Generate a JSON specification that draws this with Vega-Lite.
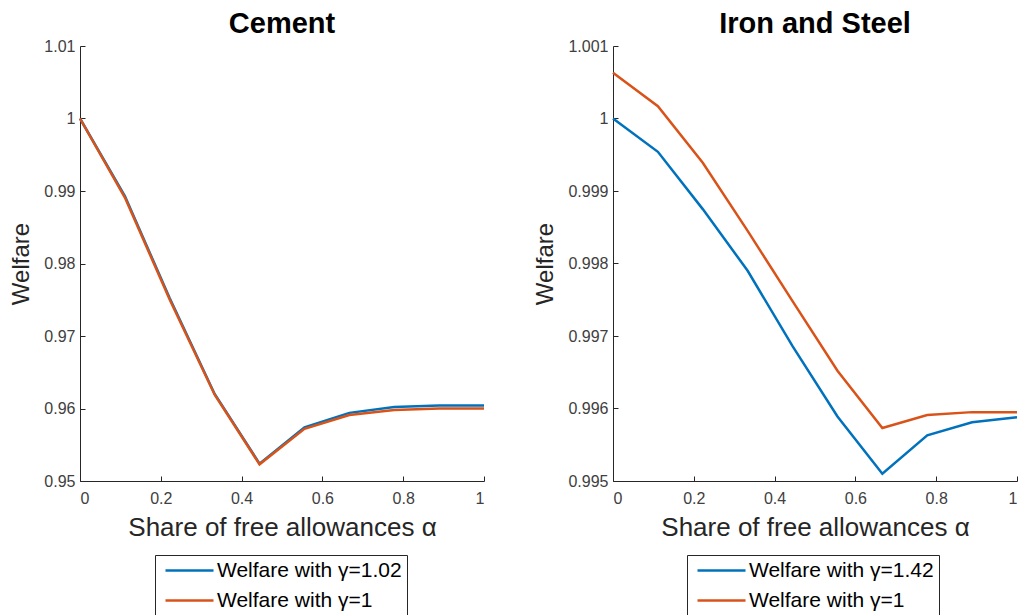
{
  "$schema": "https://vega.github.io/schema/vega-lite/v6.json",
  "background": "white",
  "padding": {"left": 9, "top": 10, "right": 0, "bottom": 0},
  "bounds": "flush",
  "spacing": 129,
  "resolve": {"scale": {"color": "independent"}},
  "config": {
    "font": "Liberation Sans",
    "view": {"stroke": null},
    "axis": {
      "grid": false,
      "domainColor": "#262626",
      "tickColor": "#262626",
      "labelColor": "#404040",
      "titleColor": "#262626",
      "labelFont": "Liberation Sans",
      "labelFontSize": 16,
      "titleFont": "Liberation Sans",
      "titleFontSize": 24,
      "titleFontWeight": "normal",
      "tickSize": -5,
      "labelPadding": 10,
      "domainWidth": 1,
      "tickWidth": 1
    },
    "axisX": {"titleFontSize": 26, "titlePadding": 8, "labelPadding": 14},
    "axisY": {"titlePadding": 10},
    "title": {"font": "Liberation Sans", "fontSize": 29, "fontWeight": "bold", "color": "#000000", "offset": -1},
    "legend": {
      "symbolType": "M-4,0H4",
      "symbolSize": 144,
      "symbolStrokeWidth": 2.5,
      "symbolOffset": 19,
      "labelFont": "Liberation Sans",
      "labelFontSize": 21,
      "labelColor": "#000000",
      "labelLimit": 400,
      "strokeColor": "#262626",
      "fillColor": "white",
      "padding": 5,
      "labelOffset": 17,
      "rowPadding": 8
    }
  },
  "datasets": {
    "cement": [
      {"alpha": 0, "welfare": 1.0, "series": "Welfare with γ=1.02"},
      {"alpha": 0.1111, "welfare": 0.9893, "series": "Welfare with γ=1.02"},
      {"alpha": 0.2222, "welfare": 0.9752, "series": "Welfare with γ=1.02"},
      {"alpha": 0.3333, "welfare": 0.962, "series": "Welfare with γ=1.02"},
      {"alpha": 0.4444, "welfare": 0.9524, "series": "Welfare with γ=1.02"},
      {"alpha": 0.5556, "welfare": 0.9574, "series": "Welfare with γ=1.02"},
      {"alpha": 0.6667, "welfare": 0.9594, "series": "Welfare with γ=1.02"},
      {"alpha": 0.7778, "welfare": 0.9602, "series": "Welfare with γ=1.02"},
      {"alpha": 0.8889, "welfare": 0.9604, "series": "Welfare with γ=1.02"},
      {"alpha": 1, "welfare": 0.9604, "series": "Welfare with γ=1.02"},
      {"alpha": 0, "welfare": 1.0, "series": "Welfare with γ=1"},
      {"alpha": 0.1111, "welfare": 0.9891, "series": "Welfare with γ=1"},
      {"alpha": 0.2222, "welfare": 0.975, "series": "Welfare with γ=1"},
      {"alpha": 0.3333, "welfare": 0.9619, "series": "Welfare with γ=1"},
      {"alpha": 0.4444, "welfare": 0.9523, "series": "Welfare with γ=1"},
      {"alpha": 0.5556, "welfare": 0.9572, "series": "Welfare with γ=1"},
      {"alpha": 0.6667, "welfare": 0.9591, "series": "Welfare with γ=1"},
      {"alpha": 0.7778, "welfare": 0.9598, "series": "Welfare with γ=1"},
      {"alpha": 0.8889, "welfare": 0.96, "series": "Welfare with γ=1"},
      {"alpha": 1, "welfare": 0.96, "series": "Welfare with γ=1"}
    ],
    "steel": [
      {"alpha": 0, "welfare": 1.0, "series": "Welfare with γ=1.42"},
      {"alpha": 0.1111, "welfare": 0.99954, "series": "Welfare with γ=1.42"},
      {"alpha": 0.2222, "welfare": 0.99875, "series": "Welfare with γ=1.42"},
      {"alpha": 0.3333, "welfare": 0.9979, "series": "Welfare with γ=1.42"},
      {"alpha": 0.4444, "welfare": 0.99686, "series": "Welfare with γ=1.42"},
      {"alpha": 0.5556, "welfare": 0.99589, "series": "Welfare with γ=1.42"},
      {"alpha": 0.6667, "welfare": 0.9951, "series": "Welfare with γ=1.42"},
      {"alpha": 0.7778, "welfare": 0.99563, "series": "Welfare with γ=1.42"},
      {"alpha": 0.8889, "welfare": 0.99581, "series": "Welfare with γ=1.42"},
      {"alpha": 1, "welfare": 0.99588, "series": "Welfare with γ=1.42"},
      {"alpha": 0, "welfare": 1.00063, "series": "Welfare with γ=1"},
      {"alpha": 0.1111, "welfare": 1.00017, "series": "Welfare with γ=1"},
      {"alpha": 0.2222, "welfare": 0.99939, "series": "Welfare with γ=1"},
      {"alpha": 0.3333, "welfare": 0.99845, "series": "Welfare with γ=1"},
      {"alpha": 0.4444, "welfare": 0.99748, "series": "Welfare with γ=1"},
      {"alpha": 0.5556, "welfare": 0.99652, "series": "Welfare with γ=1"},
      {"alpha": 0.6667, "welfare": 0.99573, "series": "Welfare with γ=1"},
      {"alpha": 0.7778, "welfare": 0.99591, "series": "Welfare with γ=1"},
      {"alpha": 0.8889, "welfare": 0.99595, "series": "Welfare with γ=1"},
      {"alpha": 1, "welfare": 0.99595, "series": "Welfare with γ=1"}
    ]
  },
  "hconcat": [
    {
      "title": "Cement",
      "width": 404,
      "height": 435,
      "data": {"name": "cement"},
      "mark": {"type": "line", "strokeWidth": 2.5},
      "encoding": {
        "x": {"field": "alpha", "type": "quantitative", "scale": {"domain": [0, 1], "nice": false},
              "axis": {"title": "Share of free allowances α", "values": [0, 0.2, 0.4, 0.6, 0.8, 1], "format": ".1~f"}},
        "y": {"field": "welfare", "type": "quantitative", "scale": {"domain": [0.95, 1.01], "nice": false, "zero": false},
              "axis": {"title": "Welfare", "values": [0.95, 0.96, 0.97, 0.98, 0.99, 1, 1.01], "format": ".3~f"}},
        "color": {"field": "series", "type": "nominal",
                  "scale": {"domain": ["Welfare with γ=1.02", "Welfare with γ=1"], "range": ["#0072BD", "#D95319"]},
                  "legend": {"orient": "none", "legendX": 75, "legendY": 509, "title": null}}
      }
    },
    {
      "title": "Iron and Steel",
      "width": 404,
      "height": 435,
      "data": {"name": "steel"},
      "mark": {"type": "line", "strokeWidth": 2.5},
      "encoding": {
        "x": {"field": "alpha", "type": "quantitative", "scale": {"domain": [0, 1], "nice": false},
              "axis": {"title": "Share of free allowances α", "values": [0, 0.2, 0.4, 0.6, 0.8, 1], "format": ".1~f"}},
        "y": {"field": "welfare", "type": "quantitative", "scale": {"domain": [0.995, 1.001], "nice": false, "zero": false},
              "axis": {"title": "Welfare", "values": [0.995, 0.996, 0.997, 0.998, 0.999, 1, 1.001], "format": ".3~f"}},
        "color": {"field": "series", "type": "nominal",
                  "scale": {"domain": ["Welfare with γ=1.42", "Welfare with γ=1"], "range": ["#0072BD", "#D95319"]},
                  "legend": {"orient": "none", "legendX": 74, "legendY": 509, "title": null}}
      }
    }
  ]
}
